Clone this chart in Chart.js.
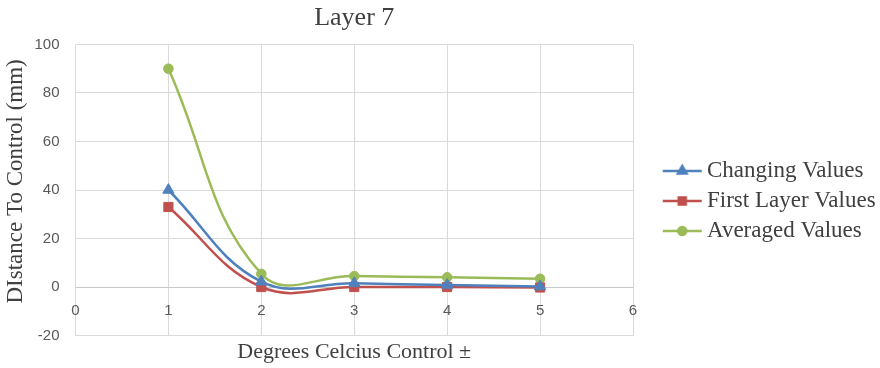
<!DOCTYPE html>
<html>
<head>
<meta charset="utf-8">
<title>Layer 7</title>
<script src="https://cdn.jsdelivr.net/npm/chart.js@4/dist/chart.umd.min.js"></script>
<style>
  html, body { margin: 0; padding: 0; background: #ffffff; }
  #wrap { width: 880px; height: 368px; }
</style>
</head>
<body>
<div id="wrap"><canvas id="chart" width="880" height="368"></canvas></div>
<script>
// Temperature offsets (x) and measured distances (y, mm)
const temperatures = [1, 2, 3, 4, 5];
const changingValues = [40, 2.2, 1.5, 0.8, 0.2];
const firstLayerValues = [33, 0, 0, 0, -0.2];
const averagedValues = [90, 5.4, 4.5, 4.0, 3.4];
const seriesNames = ['Changing Values', 'First Layer Values', 'Averaged Values'];
const xTicks = [0, 1, 2, 3, 4, 5, 6];
const yTicks = [-20, 0, 20, 40, 60, 80, 100];

const BLUE = '#4f81bd';
const RED = '#c0504d';
const GREEN = '#9bbb59';
const SERIF = '"Liberation Serif", "Times New Roman", serif';
const SANS = '"Liberation Sans", Arial, sans-serif';
const GRID = '#d9d9d9';

function points(values) {
  return values.map((v, i) => ({ x: temperatures[i], y: v }));
}

// Legend swatch: short line with the series marker in the middle
function legendSwatch(color, style, radius) {
  const c = document.createElement('canvas');
  c.width = 70; c.height = 16;
  const g = c.getContext('2d');
  g.strokeStyle = color;
  g.fillStyle = color;
  g.lineWidth = 2.5;
  g.beginPath();
  g.moveTo(30, 8);
  g.lineTo(69, 8);
  g.stroke();
  Chart.helpers.drawPoint(g, { pointStyle: style, radius: radius, borderWidth: 1, rotation: 0 }, 49.5, 8);
  return c;
}

const seriesStyle = [
  { color: BLUE, marker: 'triangle', radius: 6.5, tension: 0.4, values: changingValues },
  { color: RED, marker: 'rect', radius: 6.5, tension: 0.4, values: firstLayerValues },
  { color: GREEN, marker: 'circle', radius: 4.8, tension: 0.42, values: averagedValues }
];

const swatches = seriesStyle.map(s => legendSwatch(s.color, s.marker, s.marker === 'circle' ? 4 : 5));

const datasets = seriesStyle.map((s, i) => ({
  label: seriesNames[i],
  data: points(s.values),
  showLine: true,
  borderColor: s.color,
  backgroundColor: s.color,
  borderWidth: 2.5,
  tension: s.tension,
  pointStyle: s.marker,
  pointRadius: s.radius,
  pointHoverRadius: s.radius,
  pointBorderWidth: 1,
  pointBorderColor: s.color,
  pointBackgroundColor: s.color
}));

// Let the legend run to the right edge of the canvas instead of being clipped
const legendToEdge = {
  id: 'legendToEdge',
  afterLayout(chart) {
    const lg = chart.legend;
    if (lg) {
      lg.right = chart.width;
      lg.width = lg.right - lg.left;
    }
  }
};

new Chart(document.getElementById('chart'), {
  type: 'scatter',
  data: { datasets },
  plugins: [legendToEdge],
  options: {
    responsive: false,
    animation: false,
    layout: { padding: { left: 0, top: 0, bottom: 0, right: 36 } },
    plugins: {
      tooltip: { enabled: false },
      title: {
        display: true,
        fullSize: false,
        text: 'Layer 7',
        color: '#404040',
        font: { family: SERIF, size: 26, weight: 'normal', lineHeight: 1.2 },
        padding: { top: 3, bottom: 10.3 }
      },
      legend: {
        position: 'right',
        fullSize: false,
        title: { display: true, text: '', font: { size: 10, lineHeight: 1.2 }, padding: 5 },
        labels: {
          usePointStyle: true,
          pointStyleWidth: 55.5,
          boxHeight: 16,
          padding: 7,
          color: '#404040',
          font: { family: SERIF, size: 23 },
          generateLabels(chart) {
            const items = Chart.defaults.plugins.legend.labels.generateLabels(chart);
            items.forEach((it, i) => { it.pointStyle = swatches[i]; });
            return items;
          }
        }
      }
    },
    scales: {
      x: {
        type: 'linear',
        position: 'bottom',
        min: 0,
        max: 6,
        afterBuildTicks(axis) { axis.ticks = xTicks.map(v => ({ value: v })); },
        grid: { color: GRID, lineWidth: 1, drawTicks: false },
        border: { display: true, color: GRID },
        ticks: { display: false },
        title: {
          display: true,
          text: 'Degrees Celcius Control ±',
          color: '#404040',
          font: { family: SERIF, size: 22, lineHeight: 1.2 },
          padding: { top: 0, bottom: 3 }
        },
        afterFit(axis) { axis.height = 32.5; }
      },
      xLabels: {
        type: 'linear',
        axis: 'x',
        position: { y: 0 },
        min: 0,
        max: 6,
        afterBuildTicks(axis) { axis.ticks = xTicks.map(v => ({ value: v })); },
        grid: { display: false, drawTicks: false },
        border: { display: false },
        ticks: {
          color: '#595959',
          padding: 15,
          font: { family: SANS, size: 15 }
        }
      },
      y: {
        type: 'linear',
        min: -20,
        max: 100,
        afterBuildTicks(axis) { axis.ticks = yTicks.map(v => ({ value: v })); },
        grid: {
          color: ctx => (ctx.tick && ctx.tick.value === 0 ? '#c8c8c8' : GRID),
          lineWidth: 1,
          drawTicks: false
        },
        border: { display: false },
        ticks: {
          color: '#595959',
          padding: 16,
          font: { family: SANS, size: 15 }
        },
        title: {
          display: true,
          text: '   DIstance To Control (mm)',
          color: '#404040',
          font: { family: SERIF, size: 23, lineHeight: 1.2 },
          padding: { top: 2, bottom: 0 }
        },
        afterFit(axis) { axis.width = 75.5; }
      }
    }
  }
});
</script>
</body>
</html>
